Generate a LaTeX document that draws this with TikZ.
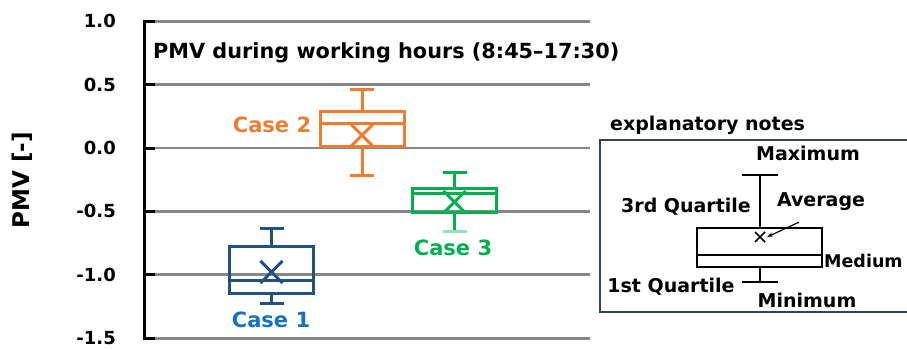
\documentclass[tikz,border=0pt]{standalone}
\usepackage{fontspec}
\setmainfont{DejaVu Sans}
\usepackage{tikz}
\usetikzlibrary{arrows.meta, positioning}
\definecolor{gridgray}{rgb}{0.53, 0.53, 0.53}
\definecolor{caseone}{rgb}{0.13, 0.32, 0.50}
\definecolor{caseonetext}{rgb}{0.08, 0.45, 0.75}
\definecolor{casetwo}{rgb}{0.93, 0.49, 0.19}
\definecolor{casethree}{rgb}{0.0, 0.69, 0.31}
\definecolor{noteframe}{rgb}{0.2, 0.27, 0.33}

\begin{document}
\begin{tikzpicture}[x=1pt, y=-1pt,
		grid line/.style={gridgray, line width=2.7pt},
		tick line/.style={black, line width=3pt},
		tick/.style={anchor=east, inner sep=0pt, font=\fontsize{18}{20}\selectfont\bfseries},
		box line/.style={line width=3pt},
		case label/.style={font=\fontsize{21}{24}\selectfont\bfseries},
		note/.style={inner sep=1pt, font=\fontsize{19}{21}\selectfont\bfseries},
		note line/.style={black, line width=1.8pt}]
		\useasboundingbox (0,0) rectangle (907,349);
		
		% PMV axis, grid and boxes (y in PMV units)
		\begin{scope}[shift={(0,148)}, y=126.8pt]
			\foreach \v/\lab [count=\i] in {1/1.0, 0.5/0.5, 0/0.0, -0.5/-0.5, -1/-1.0, -1.5/-1.5}{
				\draw [grid line] (144,\v)--(590,\v);
				\draw [tick line] (143,\v)--(155,\v);
				\node [tick] (tick\i) at (116,\v) {\lab};
			}
			\draw [tick line] (144,1.01)--(144,-1.51);
			
			% x / Q1 / median / Q3 / min / max / average / colour
			\foreach \x/\qa/\me/\qc/\lo/\hi/\av/\col in {271.5/-1.151/-1.041/-0.773/-1.23/-0.631/-0.978/caseone,
					362/0.008/0.197/0.284/-0.22/0.465/0.10/casetwo,
					454.5/-0.505/-0.355/-0.323/-0.66/-0.19/-0.426/casethree}{
				\draw [box line, \col] (\x-42,\qa) rectangle (\x+42,\qc);
				\draw [box line, \col] (\x-42,\me)--(\x+42,\me);
				\draw [box line, \col] (\x,\qc)--(\x,\hi) (\x-12,\hi)--(\x+12,\hi);
				\draw [box line, \col] (\x,\qa)--(\x,\lo) (\x-12,\lo)--(\x+12,\lo);
				\draw [box line, \col] (\x-11,\av-0.087)--(\x+11,\av+0.087);
				\draw [box line, \col] (\x-11,\av+0.087)--(\x+11,\av-0.087);
			}
			\draw [box line, casethree!40] (442.5,-0.66)--(466.5,-0.66);
		\end{scope}
		
		\node [rotate=90, font=\fontsize{23}{26}\selectfont\bfseries] (pmv) at (22,180) {PMV [-]};
		\node [anchor=west, inner sep=0pt, font=\fontsize{20.8}{24}\selectfont\bfseries] (title) at (153,53) {PMV during working hours (8:45--17:30)};
		
		\node [case label, caseonetext] (case1) at (271,320) {Case 1};
		\node [case label, casetwo] (case2) at (272,125) {Case 2};
		\node [case label, casethree] (case3) at (453,248) {Case 3};
		
		% explanatory notes
		\node [note, anchor=west, inner sep=0pt] (notes) at (610,125) {explanatory notes};
		
		\draw [note line] (697,228) rectangle (822,267);
		\draw [note line] (697,255)--(822,255);
		\draw [note line] (760,228)--(760,175) (742,175)--(778,175);
		\draw [note line] (760,267)--(760,282) (742,282)--(778,282);
		\draw [note line, line width=1.5pt] (755,232)--(765,242) (755,242)--(765,232);
		\coordinate (avgmark) at (767,237);
		
		\node [note] (maxlab) at (808,153) {Maximum};
		\node [note] (q3lab) at (686,207) {3rd Quartile};
		\node [note] (avglab) at (821,202) {Average};
		\node [note, anchor=west, inner sep=0pt, font=\fontsize{17.5}{20}\selectfont\bfseries] (medlab) at (824,261) {Medium};
		\node [note] (q1lab) at (671,287) {1st Quartile};
		\node [note, fill=white, inner ysep=8pt] (minlab) at (807,300) {Minimum};
		\draw [black, line width=1.2pt, -{Stealth[length=6pt, width=4pt]}] ([xshift=-22pt, yshift=-10pt]avglab.south) -- (avgmark);
		\draw [noteframe, line width=1.5pt] (600,140) rectangle (915,312);
	\end{tikzpicture}
\end{document}
